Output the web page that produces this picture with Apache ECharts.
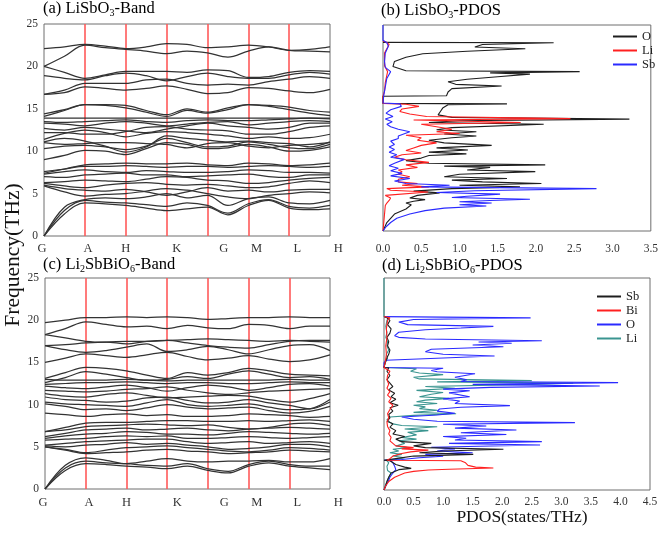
<!DOCTYPE html>
<html><head><meta charset="utf-8">
<script src="https://cdn.jsdelivr.net/npm/echarts@6/dist/echarts.min.js"></script>
<style>html,body{margin:0;padding:0;background:#fff}#c{width:661px;height:537px}</style>
</head><body><div id="c"></div><script>
// ---------- data ----------
const kPath = [0,0.5,1,1.5,2,2.5,3,3.5,4,4.5,5,5.5,6,6.5,7];
const kTicks = [1,2,3,4,5,6];
const kLabels = ['G','A','H','K','G','M','L','H'];
const kLabelPos = [-0.05,1.08,2.0,3.25,4.4,5.2,6.2,7.2];

const bandsLiSbO3 = [
 [0,2.6,3.9,3.8,3.6,3.3,3.0,3.2,3.4,2.5,3.6,4.2,3.3,3.1,3.2],
 [0,3.0,4.2,4.0,3.9,3.7,3.5,3.9,3.6,2.7,3.8,4.3,3.5,3.3,3.6],
 [0,3.4,4.3,4.5,4.4,4.6,5.0,4.5,4.8,3.6,4.4,4.6,3.9,3.8,4.2],
 [5.9,5.2,4.7,4.9,5.0,5.3,5.6,5.4,5.0,4.6,4.4,4.8,5.0,5.2,5.1],
 [6.0,5.6,5.4,5.3,5.5,5.2,4.8,5.2,5.7,5.3,5.4,5.2,5.4,5.5,5.5],
 [6.2,5.9,5.7,6.0,6.2,6.3,6.1,6.0,6.1,5.9,5.7,5.8,6.2,6.5,6.3],
 [6.3,6.4,6.6,6.5,6.4,6.7,7.0,6.9,6.6,6.5,6.2,6.3,6.6,6.8,6.9],
 [7.0,6.9,7.2,7.3,7.4,7.2,7.2,7.0,7.1,7.2,7.3,7.0,6.9,7.2,7.2],
 [7.3,7.6,7.8,7.6,7.5,7.7,7.6,7.5,7.5,7.6,7.8,7.7,7.5,7.5,7.4],
 [7.4,7.9,8.4,8.5,8.6,8.5,8.5,8.6,8.4,8.3,8.6,8.5,8.3,8.4,8.6],
 [7.6,7.9,8.2,8.2,8.3,8.2,8.1,8.2,8.2,8.1,8.2,8.3,8.2,8.1,8.2],
 [9.0,9.5,10.1,10.0,9.6,10.3,11.0,10.8,10.3,10.4,10.8,10.5,10.0,10.1,10.5],
 [10.3,10.6,10.7,10.5,10.2,10.6,11.5,11.0,10.5,10.6,11.1,10.8,10.4,10.3,10.8],
 [11.0,10.8,10.9,11.0,11.0,10.9,10.8,10.4,10.9,11.0,10.6,10.4,10.7,10.8,11.0],
 [11.1,11.5,11.2,10.6,9.9,10.5,11.8,11.5,11.3,11.1,11.2,11.0,10.9,10.5,11.1],
 [11.4,12.1,12.5,12.2,11.7,12.1,12.3,12.2,12.0,11.8,11.5,11.7,11.5,11.6,12.0],
 [12.2,12.2,12.0,12.0,12.3,12.8,12.9,12.6,12.5,12.4,12.0,12.0,12.3,12.8,13.0],
 [12.7,12.5,12.8,12.6,12.4,12.2,12.6,13.0,13.3,13.0,12.8,12.6,12.8,13.3,13.3],
 [13.3,13.2,13.0,13.3,13.5,13.3,13.0,13.2,13.4,13.5,13.1,13.3,13.5,13.6,13.5],
 [13.5,13.4,13.5,13.6,13.7,13.5,13.4,13.6,13.7,13.6,13.6,13.7,13.8,13.9,13.8],
 [13.9,13.9,13.9,13.9,13.9,13.9,13.9,13.9,13.9,13.9,13.9,13.9,13.9,13.9,13.9],
 [14.1,14.8,15.5,15.4,15.1,14.6,14.1,14.8,14.5,14.9,15.5,15.4,15.2,14.8,14.6],
 [14.4,14.9,15.5,15.5,15.4,14.8,14.3,15.0,14.6,15.1,15.5,15.3,14.9,14.5,14.2],
 [16.7,16.9,17.6,17.4,17.2,17.4,17.7,17.3,16.8,16.9,17.5,17.4,17.1,16.9,17.3],
 [16.7,17.2,18.0,18.0,18.0,18.4,18.5,18.0,17.8,17.9,17.8,18.2,18.5,18.8,18.6],
 [18.9,18.6,18.4,18.9,19.2,18.9,18.3,18.8,19.2,18.8,18.6,18.6,19.0,19.3,19.1],
 [20.0,19.3,18.6,19.0,19.4,19.4,19.4,19.3,19.6,19.5,18.7,18.8,19.3,19.5,19.4],
 [20.0,21.2,22.5,22.2,22.0,21.8,21.5,21.8,21.6,21.1,21.8,22.3,21.9,21.8,21.7],
 [22.1,22.3,22.6,22.4,22.1,22.3,22.7,22.6,22.2,22.3,22.5,22.3,21.9,22.0,22.3]
];

const bandsLi2SbBiO6 = [
 [0,2.2,3.0,2.9,2.7,2.6,2.4,2.7,2.2,1.9,2.7,3.1,2.7,2.5,2.3],
 [0,2.5,3.3,3.1,3.0,2.8,2.7,3.0,2.4,2.1,2.9,3.3,2.9,2.7,2.7],
 [0,2.8,3.7,3.4,3.0,3.3,3.6,3.3,3.2,3.3,3.3,3.4,3.2,3.2,3.6],
 [5.0,4.6,4.2,4.3,4.4,4.6,4.7,4.5,4.4,4.2,4.3,4.4,4.6,4.5,4.4],
 [5.0,4.7,4.3,4.6,4.9,5.0,5.1,4.9,4.7,4.5,4.4,4.6,4.9,4.8,4.6],
 [5.1,5.0,5.2,5.3,5.5,5.3,5.4,5.2,5.0,4.7,4.8,5.0,5.3,5.3,5.0],
 [5.2,5.4,5.6,5.7,5.8,5.9,5.9,5.6,5.4,5.5,5.6,5.4,5.5,5.6,5.4],
 [5.8,5.9,6.0,6.2,6.3,6.2,6.3,6.0,6.0,6.1,6.2,6.1,6.0,6.1,6.2],
 [6.0,6.3,6.5,6.6,6.8,6.7,6.5,6.5,6.4,6.6,6.8,6.7,6.6,6.5,6.6],
 [6.2,6.6,7.0,7.1,7.2,7.0,7.1,7.2,7.0,6.9,7.1,7.2,7.3,7.2,7.1],
 [6.8,7.0,7.4,7.5,7.6,7.7,7.6,7.5,7.6,7.3,7.1,7.3,7.7,7.8,7.5],
 [6.8,7.3,7.8,7.9,7.9,8.0,8.1,8.1,8.0,8.0,8.1,8.0,8.1,8.2,8.0],
 [9.0,8.8,8.6,8.8,8.9,8.7,8.8,8.6,8.6,8.7,8.9,8.8,8.7,8.5,8.6],
 [10.1,9.8,9.4,9.5,9.3,9.6,10.0,9.7,9.5,9.6,9.7,9.3,9.0,9.2,9.8],
 [10.3,10.1,10.0,9.9,9.8,10.2,10.6,10.0,9.8,9.9,10.1,9.7,9.4,9.5,10.6],
 [10.9,10.6,10.5,10.3,10.4,10.8,10.9,10.5,10.2,10.3,10.6,10.2,9.9,9.5,10.3],
 [11.3,11.0,10.9,11.2,11.4,11.1,10.8,10.9,11.0,11.1,11.0,10.6,10.3,10.7,11.3],
 [11.7,11.6,11.5,11.6,11.8,11.9,12.1,11.7,11.4,11.2,11.4,11.6,11.7,11.8,11.9],
 [12.2,12.0,11.9,12.1,12.3,12.0,11.6,12.0,12.3,12.1,11.7,12.0,12.4,12.5,12.2],
 [12.4,12.5,12.6,12.6,12.7,12.6,12.5,12.6,12.6,12.5,12.5,12.6,12.7,12.6,12.6],
 [13.0,12.9,12.9,12.9,13.0,12.9,12.8,12.9,12.9,12.9,12.9,12.9,13.0,12.9,12.9],
 [12.6,13.2,13.9,13.6,13.2,12.9,13.0,13.3,13.1,13.6,14.0,13.6,13.2,13.3,13.0],
 [13.1,13.8,14.4,14.3,14.0,13.5,13.1,13.8,13.5,13.8,14.3,14.0,13.6,13.5,13.4],
 [15.0,15.5,16.0,15.8,15.6,15.9,16.2,15.7,15.3,15.5,15.8,15.4,15.1,15.3,15.9],
 [17.0,16.5,16.2,16.4,16.8,17.2,16.3,16.5,16.9,16.5,16.0,16.5,17.0,17.1,16.4],
 [17.0,17.1,17.3,17.4,17.2,17.5,17.6,17.3,17.0,16.8,16.7,17.1,17.5,17.6,17.6],
 [18.3,17.9,17.5,17.4,17.5,17.5,17.6,17.7,17.8,17.7,17.6,17.5,17.6,17.5,17.4],
 [18.3,19.0,19.8,19.5,19.2,19.3,19.0,19.4,19.1,19.0,19.5,19.4,19.0,19.3,19.3],
 [19.7,20.0,20.3,20.3,20.4,20.3,20.4,20.3,20.1,20.2,20.3,20.3,20.4,20.3,20.3]
];

// PDOS curves: [frequency (THz), PDOS (states/THz)]
const pdosLiSbO3_O = [[0,0],[1,0.05],[2,0.15],[2.6,0.3],[3.1,0.37],[3.3,0.3],[3.5,0.4],[3.7,0.55],[3.9,0.35],[4.2,0.45],[4.5,0.74],[4.7,0.4],[5.0,0.9],[5.2,1.79],[5.4,1.0],[5.6,2.07],[5.8,1.3],[6.0,0.9],[6.2,1.62],[6.4,0.8],[6.7,1.0],[7.0,1.99],[7.2,1.1],[7.5,1.4],[7.65,0.8],[7.8,2.12],[8.0,0.6],[8.3,0.3],[8.6,0.5],[8.9,0.6],[9.1,1.09],[9.3,0.6],[9.55,1.11],[9.8,0.7],[10.1,1.42],[10.4,0.8],[10.7,0.6],[11.0,0.9],[11.2,1.22],[11.45,0.8],[11.7,1.22],[11.95,0.7],[12.2,0.9],[12.6,2.1],[12.8,0.6],[13.0,1.0],[13.2,3.22],[13.4,0.9],[13.7,0.72],[14.1,0.75],[14.5,0.78],[14.9,0.85],[15.0,1.62],[15.05,0],[15.9,0],[15.95,0.83],[16.4,0.85],[16.8,0.9],[17.1,1.55],[17.3,0.95],[17.6,0.85],[17.9,1.1],[18.2,1.5],[18.5,1.92],[18.65,1.4],[18.8,2.57],[18.9,0.3],[19.4,0.13],[20.0,0.15],[20.5,0.3],[20.9,0.52],[21.2,1.1],[21.5,1.86],[21.7,1.2],[22.0,1.3],[22.2,2.23],[22.25,0]];
const pdosLiSbO3_Li = [[0,0],[1,0.01],[2,0.02],[3,0.03],[3.3,0.05],[3.6,0.08],[3.9,0.1],[4.2,0.03],[4.4,0.05],[4.6,0.59],[4.8,0.1],[5.0,0.05],[5.2,0.6],[5.4,0.25],[5.6,0.45],[5.8,0.2],[6.1,0.2],[6.4,0.35],[6.7,0.2],[7.0,0.25],[7.2,0.2],[7.5,0.45],[7.8,0.3],[8.1,0.6],[8.4,0.3],[8.7,0.15],[9.0,0.25],[9.2,0.5],[9.5,0.3],[9.8,0.4],[10.1,0.5],[10.4,0.7],[10.7,0.45],[11.0,0.5],[11.3,0.3],[11.5,1.0],[11.7,0.7],[12.0,0.9],[12.3,0.7],[12.6,0.5],[12.8,1.8],[13.1,0.4],[13.25,2.45],[13.5,0.57],[13.8,0.35],[14.1,0.22],[14.4,0.25],[14.7,0.47],[14.95,0.3],[15.05,0],[15.9,0],[16.5,0.02],[17.5,0.03],[18.8,0.06],[19.5,0.02],[21.0,0.02],[22.0,0.08],[22.3,0.04],[22.4,0]];
const pdosLiSbO3_Sb = [[0,0],[0.5,0.04],[1.0,0.1],[1.5,0.18],[2.0,0.35],[2.4,0.55],[2.7,0.8],[2.95,1.35],[3.1,1.0],[3.3,1.42],[3.45,1.0],[3.6,1.4],[3.75,1.92],[3.95,0.9],[4.1,1.1],[4.35,1.53],[4.55,0.7],[4.75,1.2],[5.0,2.79],[5.2,0.5],[5.4,0.87],[5.6,0.3],[5.9,0.15],[6.2,0.35],[6.5,0.1],[6.8,0.25],[7.1,0.1],[7.4,0.2],[7.7,0.08],[8.0,0.15],[8.45,0.28],[8.7,0.1],[9.0,0.18],[9.3,0.08],[9.6,0.15],[9.9,0.08],[10.2,0.15],[10.6,0.1],[10.9,0.2],[11.2,0.2],[11.7,0.35],[12.0,0.2],[12.3,0.1],[12.6,0.05],[12.9,0.12],[13.2,0.03],[13.5,0.13],[13.9,0.04],[14.3,0.1],[14.7,0.24],[15.0,0.22],[15.1,0],[16.0,0.01],[16.5,0.02],[17.0,0.03],[18.0,0.05],[18.8,0.1],[19.3,0.03],[20,0.02],[21,0.03],[21.8,0.07],[22.2,0.05],[22.5,0],[24.3,0]];

const pdosLi2SbBiO6_Sb = [[0,0],[0.5,0.03],[1.0,0.05],[1.5,0.08],[2.0,0.12],[2.4,0.25],[2.55,0.46],[2.7,0.35],[3.0,0.2],[3.45,0.1],[3.5,0],[3.7,0.2],[4.0,0.5],[4.2,1.51],[4.4,0.6],[4.6,1.0],[4.8,2.02],[5.0,0.7],[5.2,0.5],[5.5,0.8],[5.7,0.3],[6.0,0.2],[6.3,0.35],[6.6,0.15],[7.0,0.2],[7.4,0.1],[7.8,0.15],[8.1,0.05],[8.5,0.1],[8.9,0.08],[9.3,0.15],[9.7,0.1],[10.0,0.24],[10.3,0.1],[10.7,0.2],[11.0,0.12],[11.4,0.18],[11.8,0.08],[12.2,0.15],[12.6,0.1],[13.0,0.05],[13.5,0.1],[14.0,0.05],[14.4,0.08],[14.45,0],[15.0,0.02],[15.6,0.05],[16.0,0.08],[16.5,0.1],[17.0,0.06],[17.5,0.08],[18.0,0.05],[18.5,0.1],[19.0,0.12],[19.5,0.06],[20.0,0.1],[20.3,0.05],[20.45,0]];
const pdosLi2SbBiO6_Bi = [[0,0],[0.5,0.03],[1.0,0.08],[1.5,0.18],[2.0,0.35],[2.2,0.5],[2.35,0.75],[2.45,1.1],[2.6,1.85],[2.7,1.55],[2.9,1.42],[3.2,1.38],[3.45,1.3],[3.5,0.05],[3.7,0.1],[4.0,0.15],[4.3,0.3],[4.5,0.45],[4.7,0.75],[4.85,0.3],[5.0,0.5],[5.2,0.2],[5.5,0.15],[5.8,0.1],[6.2,0.12],[6.6,0.08],[7.0,0.1],[7.5,0.06],[8.0,0.05],[8.5,0.08],[9.0,0.06],[9.5,0.1],[10.0,0.15],[10.4,0.08],[10.8,0.12],[11.2,0.06],[11.6,0.1],[12.0,0.05],[12.5,0.08],[13.0,0.05],[13.5,0.06],[14.0,0.1],[14.45,0],[15.0,0.02],[16,0.04],[17,0.03],[18,0.05],[19,0.04],[20,0.06],[20.3,0.1],[20.45,0]];
const pdosLi2SbBiO6_O = [[0,0],[0.5,0.03],[1.0,0.07],[1.5,0.1],[2.0,0.15],[2.4,0.2],[2.8,0.18],[3.2,0.15],[3.45,0.12],[3.5,0],[3.6,0.3],[3.8,0.6],[4.0,1.0],[4.2,0.7],[4.4,1.5],[4.6,0.9],[4.85,1.2],[5.05,0.8],[5.3,2.64],[5.5,1.1],[5.7,2.67],[5.9,1.2],[6.1,1.39],[6.3,1.0],[6.55,2.07],[6.75,1.3],[7.07,2.24],[7.3,1.2],[7.55,1.73],[7.75,1.0],[7.94,3.23],[8.1,0.9],[8.35,0.5],[8.6,0.3],[8.85,0.9],[9.05,1.2],[9.3,0.9],[9.55,0.94],[9.75,1.3],[9.95,2.13],[10.2,1.2],[10.5,1.28],[10.75,1.0],[11.0,1.45],[11.2,1.45],[11.45,1.1],[11.7,1.45],[11.9,1.0],[12.1,1.8],[12.26,3.65],[12.45,1.5],[12.66,3.96],[12.8,1.3],[13.0,1.4],[13.3,1.2],[13.5,1.2],[13.7,1.54],[13.95,0.9],[14.1,0.8],[14.35,1.0],[14.45,0],[15.0,0],[15.3,0.03],[15.8,1.87],[16.0,1.0],[16.3,0.7],[16.6,0.8],[16.9,2.02],[17.1,1.5],[17.3,2.16],[17.45,1.6],[17.6,2.67],[17.8,0.7],[18.0,0.25],[18.2,0.18],[18.6,0.25],[18.9,0.7],[19.1,1.3],[19.3,1.85],[19.5,0.4],[19.8,0.25],[20.1,0.5],[20.3,2.48],[20.45,0]];
const pdosLi2SbBiO6_Li = [[0,0],[0.5,0.02],[1.0,0.05],[1.5,0.08],[2.0,0.12],[2.3,0.06],[2.8,0.05],[3.2,0.08],[3.45,0.05],[3.5,0],[3.6,0.2],[3.8,0.35],[4.0,0.15],[4.2,0.3],[4.4,0.1],[4.6,0.25],[4.8,0.15],[5.0,0.4],[5.2,0.2],[5.5,0.35],[5.8,0.25],[6.0,0.55],[6.2,0.3],[6.5,0.55],[6.8,0.4],[7.0,0.75],[7.2,0.35],[7.45,0.9],[7.6,0.3],[7.8,0.15],[8.0,0.1],[8.3,0.05],[8.6,0.1],[8.8,0.5],[9.0,1.22],[9.15,0.5],[9.4,0.9],[9.6,0.6],[9.8,0.7],[10.0,0.5],[10.2,0.9],[10.4,0.55],[10.6,0.7],[10.8,1.1],[11.0,0.6],[11.3,0.8],[11.5,1.0],[11.75,0.55],[12.0,1.2],[12.2,0.7],[12.45,2.5],[12.6,3.2],[12.75,0.9],[12.9,2.5],[13.1,0.6],[13.3,0.5],[13.6,1.0],[13.8,0.6],[14.0,0.45],[14.3,0.55],[14.45,0],[15.0,0.02],[15.5,0.06],[16.0,0.04],[16.5,0.08],[17.0,0.05],[17.5,0.06],[18.0,0.03],[18.6,0.05],[19.3,0.03],[20.0,0.05],[20.3,0.08],[20.45,0],[25,0]];

const pdosMaxB = 3.5, pdosMaxD = 4.5;

// ---------- chart ----------
const serif = '"Liberation Serif","DejaVu Serif",serif';
const chart = echarts.init(document.getElementById('c'), null, {renderer:'canvas'});

const gridStyle = {show:true, borderColor:'#6e6e6e', borderWidth:1, backgroundColor:'transparent'};
const hidden = {axisLine:{show:false}, axisTick:{show:false}, splitLine:{show:false}};
const lbl = {fontFamily:serif, fontSize:11.5, color:'#333'};

function bandSeries(bands, gi){
  return bands.map((b,i)=>({
    type:'line', xAxisIndex:gi, yAxisIndex:gi, smooth:0.35, symbol:'none', silent:true,
    lineStyle:{color:'#333', width:1.25}, z:3,
    data:kPath.map((k,j)=>[k,b[j]]),
    markLine: i===0 ? {silent:true, symbol:'none', label:{show:false}, animation:false,
      lineStyle:{color:'#ff5a5a', width:1.6, type:'solid'}, z:2,
      data:kTicks.map(k=>({xAxis:k}))} : undefined
  }));
}
function pdosSeries(name, arr, gi, color){
  return {type:'line', name:name, xAxisIndex:gi, yAxisIndex:gi, symbol:'none', silent:true,
    lineStyle:{color:color, width:1.1}, itemStyle:{color:color}, z:4,
    data:arr.map(d=>[d[1], d[0]])};
}

const option = {
  animation:false,
  grid:[
    Object.assign({left:44, top:24, width:286, height:212}, gridStyle),
    Object.assign({left:383, top:25, width:268, height:206}, gridStyle),
    Object.assign({left:45, top:278, width:285, height:211}, gridStyle),
    Object.assign({left:384, top:278, width:266, height:212}, gridStyle)
  ],
  xAxis:[
    Object.assign({gridIndex:0, type:'value', min:0, max:7, axisLabel:{show:false}}, hidden),
    Object.assign({gridIndex:1, type:'value', min:0, max:pdosMaxB, interval:0.5,
      axisLabel:Object.assign({formatter:v=>v.toFixed(1), margin:12, showMaxLabel:true}, lbl)}, hidden),
    Object.assign({gridIndex:2, type:'value', min:0, max:7, axisLabel:{show:false}}, hidden),
    Object.assign({gridIndex:3, type:'value', min:0, max:pdosMaxD, interval:0.5,
      axisLabel:Object.assign({formatter:v=>v.toFixed(1), margin:6, showMaxLabel:true}, lbl)}, hidden)
  ],
  yAxis:[
    Object.assign({gridIndex:0, type:'value', min:0, max:25, interval:5,
      axisLabel:Object.assign({margin:6}, lbl)}, hidden),
    Object.assign({gridIndex:1, type:'value', min:0, max:24.3, axisLabel:{show:false}}, hidden),
    Object.assign({gridIndex:2, type:'value', min:0, max:25, interval:5,
      axisLabel:Object.assign({margin:6}, lbl)}, hidden),
    Object.assign({gridIndex:3, type:'value', min:0, max:25, axisLabel:{show:false}}, hidden)
  ],
  legend:[
    {orient:'vertical', left:608, top:25, itemWidth:24, itemHeight:2, itemGap:1, icon:'rect',
     textStyle:{fontFamily:serif, fontSize:12.5, color:'#222', lineHeight:13},
     data:['b:O','b:Li','b:Sb'], formatter:n=>n.slice(2), selectedMode:false},
    {orient:'vertical', left:592, top:285, itemWidth:24, itemHeight:2, itemGap:1, icon:'rect',
     textStyle:{fontFamily:serif, fontSize:12.5, color:'#222', lineHeight:13},
     data:['d:Sb','d:Bi','d:O','d:Li'], formatter:n=>n.slice(2), selectedMode:false}
  ],
  series:[].concat(
    bandSeries(bandsLiSbO3, 0),
    bandSeries(bandsLi2SbBiO6, 2),
    [pdosSeries('b:O', pdosLiSbO3_O, 1, '#1e1e1e'),
     pdosSeries('b:Li', pdosLiSbO3_Li, 1, '#ff2020'),
     pdosSeries('b:Sb', pdosLiSbO3_Sb, 1, '#2a2aff'),
     pdosSeries('d:Li', pdosLi2SbBiO6_Li, 3, '#3a9590'),
     pdosSeries('d:O', pdosLi2SbBiO6_O, 3, '#2a2aff'),
     pdosSeries('d:Sb', pdosLi2SbBiO6_Sb, 3, '#1e1e1e'),
     pdosSeries('d:Bi', pdosLi2SbBiO6_Bi, 3, '#ff2020')]
  )
};
chart.setOption(option);

// text elements: panel titles, k-point labels, axis names
const rich = {
  r:{fontFamily:serif, fontSize:16.5, color:'#111', lineHeight:17, verticalAlign:'top'},
  s:{fontFamily:serif, fontSize:10, color:'#111', lineHeight:17, verticalAlign:'top', padding:[8,0,0,0]}
};
function title(x, y, txt){
  return {type:'text', left:x, top:y, style:{text:txt, rich:rich}};
}
const gfx = [
  title(43, 0, '{r|(a) LiSbO}{s|3}{r|-Band}'),
  title(381, 2, '{r|(b) LiSbO}{s|3}{r|-PDOS}'),
  title(43, 256, '{r|(c) Li}{s|2}{r|SbBiO}{s|6}{r|-Band}'),
  title(382, 257, '{r|(d) Li}{s|2}{r|SbBiO}{s|6}{r|-PDOS}'),
  {type:'text', x:13, y:255, rotation:Math.PI/2,
   style:{text:'Frequency(THz)', fontFamily:serif, fontSize:21.5, fill:'#111', align:'center', verticalAlign:'middle'}},
  {type:'text', x:522, y:517,
   style:{text:'PDOS(states/THz)', fontFamily:serif, fontSize:17.5, fill:'#111', align:'center', verticalAlign:'middle'}}
];
[[0,249],[2,503]].forEach(([gi, py])=>{
  kLabels.forEach((t,i)=>{
    const px = chart.convertToPixel({xAxisIndex:gi, yAxisIndex:gi}, [kLabelPos[i], 0])[0];
    gfx.push({type:'text', x:px, y:py, style:{text:t, fontFamily:serif, fontSize:12.5, fill:'#333', align:'center', verticalAlign:'middle'}});
  });
});
chart.setOption({graphic:gfx});
</script></body></html>
